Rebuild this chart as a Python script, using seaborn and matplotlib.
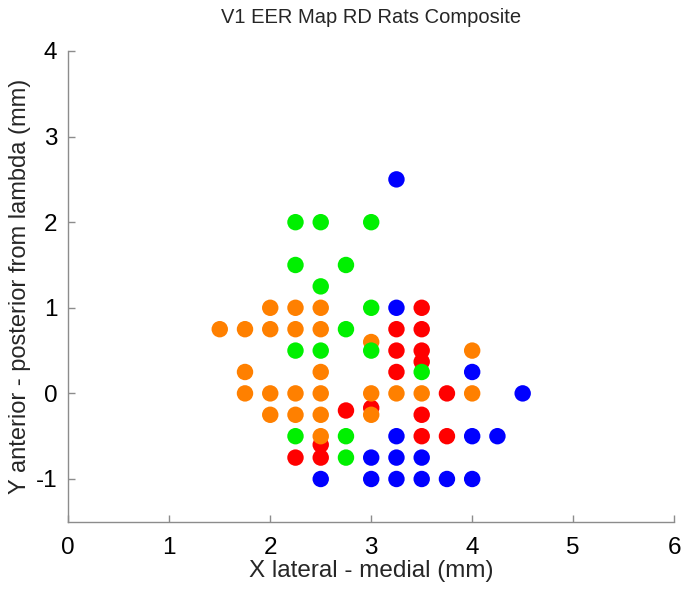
import matplotlib
matplotlib.use("Agg")
import matplotlib.pyplot as plt
import seaborn as sns
import pandas as pd

# Data (mm)
red_x = [3.5, 3.25, 3.5, 3.25, 3.5, 3.5, 3.25, 3.75, 2.75, 3.0, 3.5, 3.5, 3.75, 2.5, 2.25, 2.5]
red_y = [1.0, 0.75, 0.75, 0.5, 0.5, 0.37, 0.25, 0.0, -0.2, -0.17, -0.25, -0.5, -0.5, -0.6, -0.75, -0.75]

orange_x = [2.0, 2.25, 2.5, 1.5, 1.75, 2.0, 2.25, 2.5, 3.0, 4.0, 1.75, 2.5,
            1.75, 2.0, 2.25, 2.5, 3.0, 3.25, 3.5, 4.0, 2.0, 2.25, 2.5, 3.0, 2.5]
orange_y = [1.0, 1.0, 1.0, 0.75, 0.75, 0.75, 0.75, 0.75, 0.6, 0.5, 0.25, 0.25,
            0.0, 0.0, 0.0, 0.0, 0.0, 0.0, 0.0, 0.0, -0.25, -0.25, -0.25, -0.25, -0.5]

green_x = [2.25, 2.5, 3.0, 2.25, 2.75, 2.5, 3.0, 2.75, 2.25, 2.5, 3.0, 3.5, 2.25, 2.75, 2.75]
green_y = [2.0, 2.0, 2.0, 1.5, 1.5, 1.25, 1.0, 0.75, 0.5, 0.5, 0.5, 0.25, -0.5, -0.5, -0.75]

blue_x = [3.25, 3.25, 4.0, 4.5, 3.25, 4.0, 4.25, 3.0, 3.25, 3.5, 2.5, 3.0, 3.25, 3.5, 3.75, 4.0]
blue_y = [2.5, 1.0, 0.25, 0.0, -0.5, -0.5, -0.5, -0.75, -0.75, -0.75, -1.0, -1.0, -1.0, -1.0, -1.0, -1.0]

x_ticks = [0, 1, 2, 3, 4, 5, 6]
y_ticks = [-1, 0, 1, 2, 3, 4]

groups = ["red", "orange", "green", "blue"]
palette = {"red": "#ff0000", "orange": "#ff8000", "green": "#00f000", "blue": "#0000ff"}

frames = []
for name, xs, ys in [("red", red_x, red_y), ("orange", orange_x, orange_y),
                     ("green", green_x, green_y), ("blue", blue_x, blue_y)]:
    frames.append(pd.DataFrame({"x": xs, "y": ys, "group": name}))
df = pd.concat(frames, ignore_index=True)

sns.set_style("white")
plt.rcParams["font.family"] = ["Liberation Sans", "DejaVu Sans"]

fig = plt.figure(figsize=(6.83, 5.9), dpi=100)
ax = fig.add_axes([0.100, 0.1156, 0.887, 0.798])

sns.scatterplot(data=df, x="x", y="y", hue="group", palette=palette,
                hue_order=groups, s=140, linewidth=0, legend=False, ax=ax)

ax.set_xlim(0, 6)
ax.set_ylim(-1.5, 4)
ax.set_xticks(x_ticks)
ax.set_yticks(y_ticks)
ax.set_xticklabels([str(v) for v in x_ticks])
ax.set_yticklabels([str(v) for v in y_ticks])

for side in ["top", "right"]:
    ax.spines[side].set_visible(False)
for side in ["left", "bottom"]:
    ax.spines[side].set_color("#8c8c8c")
    ax.spines[side].set_linewidth(1.0)

ax.tick_params(axis="both", direction="in", length=5, width=1.0, color="#8c8c8c",
               labelsize=17.5, labelcolor="black", left=True, bottom=True)
ax.tick_params(axis="x", pad=11)
ax.tick_params(axis="y", pad=8)

ax.set_xlabel("X lateral - medial (mm)", fontsize=17.5, labelpad=1)
ax.set_ylabel("Y anterior - posterior from lambda (mm)", fontsize=17, labelpad=3)
ax.set_title("V1 EER Map RD Rats Composite", fontsize=14.5, pad=20)

fig.savefig("out.png", dpi=100)
